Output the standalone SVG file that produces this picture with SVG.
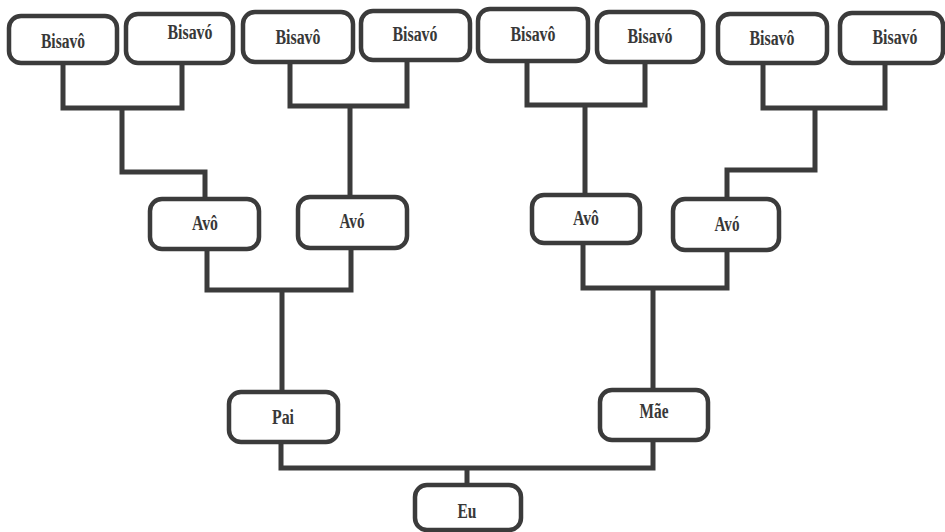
<svg xmlns="http://www.w3.org/2000/svg" width="945" height="532" viewBox="0 0 945 532">
<style>
.box{fill:#fff;stroke:#3b3b3b;stroke-width:4.5}
.lbl{font-family:"Liberation Serif","DejaVu Serif",serif;font-weight:bold;font-size:20px;fill:#383838;text-anchor:middle}
.con{fill:none;stroke:#3b3b3b;stroke-width:5;stroke-linejoin:miter}
</style>
<rect width="945" height="532" fill="#fff"/>
<g id="connectors">
<path class="con" d="M63 63V108H182V63M122 108V172H205V199"/>
<path class="con" d="M290 62V106H407V60M350 106V197"/>
<path class="con" d="M527 61V105H645V62M585 105V195"/>
<path class="con" d="M763 63V108H885V63M815 108V170H727V199"/>
<path class="con" d="M207 249V290H351V248M282 290V392"/>
<path class="con" d="M583 243V288H727V250M653 288V390"/>
<path class="con" d="M281 442V468H653V440M467 468V485"/>
</g>
<g id="n1"><rect class="box" x="9" y="16" width="108" height="47" rx="12"/><text class="lbl" x="63" y="48" textLength="44" lengthAdjust="spacingAndGlyphs">Bisavô</text></g>
<g id="n2"><rect class="box" x="126" y="14" width="107" height="49" rx="12"/><text class="lbl" x="190" y="39" textLength="45" lengthAdjust="spacingAndGlyphs">Bisavó</text></g>
<g id="n3"><rect class="box" x="243" y="12" width="110" height="50" rx="12"/><text class="lbl" x="298" y="44" textLength="45" lengthAdjust="spacingAndGlyphs">Bisavô</text></g>
<g id="n4"><rect class="box" x="361" y="11" width="109" height="49" rx="12"/><text class="lbl" x="415" y="41" textLength="45" lengthAdjust="spacingAndGlyphs">Bisavó</text></g>
<g id="n5"><rect class="box" x="478" y="9" width="110" height="52" rx="12"/><text class="lbl" x="533" y="41" textLength="45" lengthAdjust="spacingAndGlyphs">Bisavô</text></g>
<g id="n6"><rect class="box" x="597" y="12" width="106" height="50" rx="12"/><text class="lbl" x="650" y="43" textLength="45" lengthAdjust="spacingAndGlyphs">Bisavó</text></g>
<g id="n7"><rect class="box" x="718" y="14" width="109" height="49" rx="12"/><text class="lbl" x="772" y="45" textLength="45" lengthAdjust="spacingAndGlyphs">Bisavô</text></g>
<g id="n8"><rect class="box" x="840" y="13" width="103" height="50" rx="12"/><text class="lbl" x="895" y="44" textLength="45" lengthAdjust="spacingAndGlyphs">Bisavó</text></g>
<g id="avo1"><rect class="box" x="150" y="199" width="109" height="50" rx="12"/><text class="lbl" x="205" y="230" textLength="26" lengthAdjust="spacingAndGlyphs">Avô</text></g>
<g id="avo2"><rect class="box" x="298" y="197" width="109" height="51" rx="12"/><text class="lbl" x="352" y="228" textLength="25" lengthAdjust="spacingAndGlyphs">Avó</text></g>
<g id="avo3"><rect class="box" x="532" y="195" width="108" height="48" rx="12"/><text class="lbl" x="586" y="225" textLength="26" lengthAdjust="spacingAndGlyphs">Avô</text></g>
<g id="avo4"><rect class="box" x="673" y="199" width="106" height="51" rx="12"/><text class="lbl" x="727" y="231" textLength="25" lengthAdjust="spacingAndGlyphs">Avó</text></g>
<g id="pai"><rect class="box" x="229" y="392" width="109" height="50" rx="12"/><text class="lbl" x="283" y="424" textLength="22" lengthAdjust="spacingAndGlyphs">Pai</text></g>
<g id="mae"><rect class="box" x="600" y="390" width="108" height="50" rx="12"/><text class="lbl" x="654" y="418" textLength="29" lengthAdjust="spacingAndGlyphs">Mãe</text></g>
<g id="eu"><rect class="box" x="415" y="485" width="106" height="45" rx="12"/><text class="lbl" x="467" y="518" textLength="19" lengthAdjust="spacingAndGlyphs">Eu</text></g>
</svg>
